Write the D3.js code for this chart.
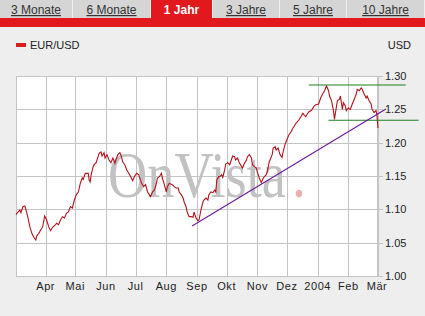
<!DOCTYPE html>
<html>
<head>
<meta charset="utf-8">
<script src="https://cdn.jsdelivr.net/npm/d3@7"></script>
<style>
  html, body { margin: 0; padding: 0; background: #eeeeee; }
  svg { display: block; font-family: "Liberation Sans", Arial, sans-serif; }
</style>
</head>
<body>
<svg id="chart" width="425" height="316"></svg>
<script>
// tabs across the top
var tabLabels = ["3 Monate", "6 Monate", "1 Jahr", "3 Jahre", "5 Jahre", "10 Jahre"];
var activeTab = "1 Jahr";

// EUR/USD daily close
var dates = [
  "2003-03-02","2003-03-04","2003-03-06","2003-03-07","2003-03-09","2003-03-11","2003-03-12","2003-03-14",
  "2003-03-16","2003-03-18","2003-03-20","2003-03-22","2003-03-23","2003-03-25","2003-03-27","2003-03-29",
  "2003-03-31","2003-04-02","2003-04-04","2003-04-06","2003-04-08","2003-04-11","2003-04-12","2003-04-14",
  "2003-04-16","2003-04-18","2003-04-20","2003-04-22","2003-04-24","2003-04-26","2003-04-28","2003-04-30",
  "2003-05-02","2003-05-04","2003-05-06","2003-05-08","2003-05-09","2003-05-11","2003-05-14","2003-05-15",
  "2003-05-16","2003-05-17","2003-05-19","2003-05-20","2003-05-22","2003-05-24","2003-05-25","2003-05-27",
  "2003-05-28","2003-05-30","2003-05-31","2003-06-02","2003-06-04","2003-06-06","2003-06-08","2003-06-10",
  "2003-06-11","2003-06-13","2003-06-15","2003-06-16","2003-06-18","2003-06-20","2003-06-22","2003-06-24",
  "2003-06-26","2003-06-28","2003-06-30","2003-07-02","2003-07-04","2003-07-07","2003-07-09","2003-07-11",
  "2003-07-13","2003-07-16","2003-07-18","2003-07-20","2003-07-22","2003-07-23","2003-07-25","2003-07-27",
  "2003-07-28","2003-07-30","2003-08-01","2003-08-02","2003-08-04","2003-08-07","2003-08-09","2003-08-11",
  "2003-08-13","2003-08-14","2003-08-16","2003-08-18","2003-08-19","2003-08-21","2003-08-22","2003-08-24",
  "2003-08-26","2003-08-28","2003-08-29","2003-08-31","2003-09-02","2003-09-03","2003-09-05","2003-09-07",
  "2003-09-08","2003-09-10","2003-09-12","2003-09-13","2003-09-15","2003-09-17","2003-09-19","2003-09-20",
  "2003-09-21","2003-09-23","2003-09-24","2003-09-26","2003-09-27","2003-09-29","2003-09-30","2003-10-02",
  "2003-10-04","2003-10-05","2003-10-07","2003-10-09","2003-10-10","2003-10-12","2003-10-14","2003-10-15",
  "2003-10-17","2003-10-19","2003-10-21","2003-10-22","2003-10-24","2003-10-26","2003-10-27","2003-10-29",
  "2003-10-31","2003-11-01","2003-11-03","2003-11-05","2003-11-07","2003-11-10","2003-11-11","2003-11-13",
  "2003-11-16","2003-11-17","2003-11-19","2003-11-20","2003-11-22","2003-11-24","2003-11-26","2003-11-27",
  "2003-11-29","2003-11-30","2003-12-03","2003-12-05","2003-12-07","2003-12-08","2003-12-10","2003-12-13",
  "2003-12-15","2003-12-17","2003-12-18","2003-12-20","2003-12-22","2003-12-23","2003-12-26","2003-12-28",
  "2003-12-30","2004-01-02","2004-01-04","2004-01-06","2004-01-08","2004-01-09","2004-01-10","2004-01-12",
  "2004-01-13","2004-01-15","2004-01-17","2004-01-18","2004-01-19","2004-01-21","2004-01-23","2004-01-24",
  "2004-01-25","2004-01-26","2004-01-27","2004-01-29","2004-01-30","2004-02-01","2004-02-03","2004-02-05",
  "2004-02-07","2004-02-09","2004-02-10","2004-02-12","2004-02-14","2004-02-15","2004-02-17","2004-02-19",
  "2004-02-20","2004-02-22","2004-02-24","2004-02-25","2004-02-27","2004-02-29","2004-03-01","2004-03-02"
];
var rates = [
  1.092,1.096,1.099,1.095,1.104,1.105,1.100,1.088,
  1.074,1.064,1.058,1.054,1.060,1.064,1.069,1.074,
  1.090,1.084,1.074,1.068,1.073,1.077,1.079,1.077,
  1.084,1.089,1.087,1.094,1.096,1.104,1.102,1.114,
  1.122,1.126,1.139,1.147,1.145,1.154,1.154,1.144,
  1.141,1.152,1.164,1.167,1.170,1.179,1.184,1.186,
  1.180,1.185,1.177,1.182,1.174,1.170,1.177,1.169,
  1.174,1.182,1.185,1.182,1.171,1.167,1.159,1.154,
  1.149,1.143,1.150,1.154,1.152,1.139,1.134,1.137,
  1.126,1.119,1.126,1.129,1.139,1.147,1.149,1.154,
  1.147,1.137,1.126,1.134,1.139,1.137,1.134,1.132,
  1.132,1.126,1.122,1.117,1.111,1.104,1.096,1.089,
  1.089,1.088,1.096,1.087,1.083,1.084,1.099,1.111,
  1.114,1.117,1.114,1.122,1.126,1.125,1.129,1.126,
  1.144,1.149,1.149,1.152,1.148,1.159,1.168,1.170,
  1.167,1.171,1.180,1.179,1.174,1.177,1.169,1.167,
  1.162,1.169,1.174,1.179,1.182,1.177,1.167,1.164,
  1.162,1.156,1.147,1.140,1.147,1.152,1.156,1.171,
  1.182,1.192,1.194,1.189,1.192,1.182,1.178,1.186,
  1.197,1.201,1.212,1.216,1.222,1.224,1.229,1.234,
  1.239,1.244,1.242,1.239,1.244,1.246,1.249,1.254,
  1.257,1.258,1.267,1.273,1.278,1.282,1.285,1.278,
  1.270,1.263,1.248,1.235,1.245,1.263,1.265,1.270,
  1.260,1.250,1.260,1.255,1.248,1.252,1.250,1.258,
  1.265,1.273,1.280,1.278,1.282,1.280,1.273,1.267,
  1.270,1.263,1.258,1.250,1.245,1.248,1.240,1.222
];

// hand drawn lines on the chart: [start date, start value, end date, end value]
var resistance = ["2003-12-23", 1.2865, "2004-03-30", 1.2865];
var support    = ["2004-01-12", 1.2336, "2004-04-12", 1.2336];
var trendLine  = ["2003-08-27", 1.075,  "2004-03-10", 1.2505];

var monthTicks = ["2003-04-01","2003-05-01","2003-06-01","2003-07-01","2003-08-01","2003-09-01",
                  "2003-10-01","2003-11-01","2003-12-01","2004-01-01","2004-02-01","2004-03-01"];
var monthLabels = ["Apr","Mai","Jun","Jul","Aug","Sep","Okt","Nov","Dez","2004","Feb","Mär"];
var yTicks = [1.00, 1.05, 1.10, 1.15, 1.20, 1.25, 1.30];

var parse = d3.timeParse("%Y-%m-%d");
var svg = d3.select("#chart");

var plot = {left: 16, right: 378, top: 76, bottom: 276};

var x = d3.scaleTime()
    .domain([parse("2003-03-02"), parse("2004-03-02")])
    .range([plot.left, plot.right]);
var y = d3.scaleLinear()
    .domain([1.0, 1.3])
    .range([plot.bottom, plot.top]);

//---- tab bar
var tabEdges = [0, 73, 151, 213, 280, 347, 425];
var tabs = svg.append("g").attr("class", "tabs");
tabLabels.forEach(function(t, i) {
    var isActive = t === activeTab;
    tabs.append("rect")
        .attr("x", tabEdges[i])
        .attr("y", 0)
        .attr("width", tabEdges[i + 1] - tabEdges[i] - 1)
        .attr("height", 19)
        .attr("fill", isActive ? "#e2191c" : "#d5d5d5");
    tabs.append("text")
        .attr("x", (tabEdges[i] + tabEdges[i + 1] - 1) / 2)
        .attr("y", 14)
        .attr("text-anchor", "middle")
        .attr("font-size", "12px")
        .attr("font-weight", isActive ? "bold" : "normal")
        .attr("fill", isActive ? "#ffffff" : "#333333")
        .attr("text-decoration", isActive ? "none" : "underline")
        .text(t);
});
svg.append("rect")
    .attr("x", 0).attr("y", 18)
    .attr("width", 425).attr("height", 9)
    .attr("fill", "#e2191c");

//---- legend
svg.append("rect")
    .attr("x", 16).attr("y", 43)
    .attr("width", 10).attr("height", 4)
    .attr("fill", "#d81e1e");
svg.append("text")
    .attr("x", 30).attr("y", 49)
    .attr("font-size", "11px")
    .attr("fill", "#222")
    .text("EUR/USD");
svg.append("text")
    .attr("x", 411).attr("y", 49)
    .attr("text-anchor", "end")
    .attr("font-size", "11px")
    .attr("fill", "#222")
    .text("USD");

//---- plot background and grid
svg.append("rect")
    .attr("x", plot.left).attr("y", plot.top)
    .attr("width", plot.right - plot.left)
    .attr("height", plot.bottom - plot.top)
    .attr("fill", "#ffffff");

var grid = svg.append("g").attr("stroke", "#c4c4c4").attr("stroke-width", 1);
grid.selectAll("line.h")
    .data(yTicks)
    .enter().append("line")
    .attr("class", "h")
    .attr("x1", plot.left)
    .attr("x2", plot.right + 5)
    .attr("y1", function(d) { return Math.round(y(d)) + 0.5; })
    .attr("y2", function(d) { return Math.round(y(d)) + 0.5; });
grid.selectAll("line.v")
    .data(monthTicks)
    .enter().append("line")
    .attr("class", "v")
    .attr("x1", function(d) { return Math.round(x(parse(d))) + 0.5; })
    .attr("x2", function(d) { return Math.round(x(parse(d))) + 0.5; })
    .attr("y1", plot.top)
    .attr("y2", plot.bottom);
grid.append("line")
    .attr("x1", plot.left + 0.5).attr("x2", plot.left + 0.5)
    .attr("y1", plot.top).attr("y2", plot.bottom);
grid.append("line")
    .attr("x1", plot.right + 0.5).attr("x2", plot.right + 0.5)
    .attr("y1", plot.top).attr("y2", plot.bottom + 1);

//---- watermark (stretched a little taller like the logo)
var wm = svg.append("g")
    .attr("transform", "translate(108,197) scale(1,1.18)")
    .attr("font-family", "'Liberation Serif', 'DejaVu Serif', serif")
    .attr("font-size", "56px");
wm.append("text")
    .attr("x", 0).attr("y", 0)
    .attr("fill", "#c2c2c2")
    .attr("textLength", 178)
    .attr("lengthAdjust", "spacingAndGlyphs")
    .text("OnVista");
wm.append("text")
    .attr("x", 184).attr("y", 0)
    .attr("fill", "#e4b2b2")
    .text(".");

//---- axis labels
svg.append("g").selectAll("text")
    .data(yTicks)
    .enter().append("text")
    .attr("x", 385)
    .attr("y", function(d) { return y(d) + 4; })
    .attr("font-size", "11px")
    .attr("fill", "#222")
    .text(function(d) { return d.toFixed(2); });

svg.append("g").selectAll("text")
    .data(monthTicks)
    .enter().append("text")
    .attr("x", function(d) { return x(parse(d)); })
    .attr("y", 290)
    .attr("text-anchor", "middle")
    .attr("font-size", "11px")
    .attr("letter-spacing", "0.6px")
    .attr("fill", "#222")
    .text(function(d, i) { return monthLabels[i]; });

//---- price line
var series = dates.map(function(d, i) { return {date: parse(d), value: rates[i]}; });
var line = d3.line()
    .x(function(d) { return x(d.date); })
    .y(function(d) { return y(d.value); });
svg.append("path")
    .datum(series)
    .attr("fill", "none")
    .attr("stroke", "#b3121c")
    .attr("stroke-width", 1.1)
    .attr("d", line);

//---- drawn lines
function drawSeg(seg, colour) {
    svg.append("line")
        .attr("x1", x(parse(seg[0]))).attr("y1", y(seg[1]))
        .attr("x2", x(parse(seg[2]))).attr("y2", y(seg[3]))
        .attr("stroke", colour)
        .attr("stroke-width", 1.1);
}
drawSeg(resistance, "#1f7f1f");
drawSeg(support, "#1f7f1f");
drawSeg(trendLine, "#6a1a9a");
</script>
</body>
</html>
